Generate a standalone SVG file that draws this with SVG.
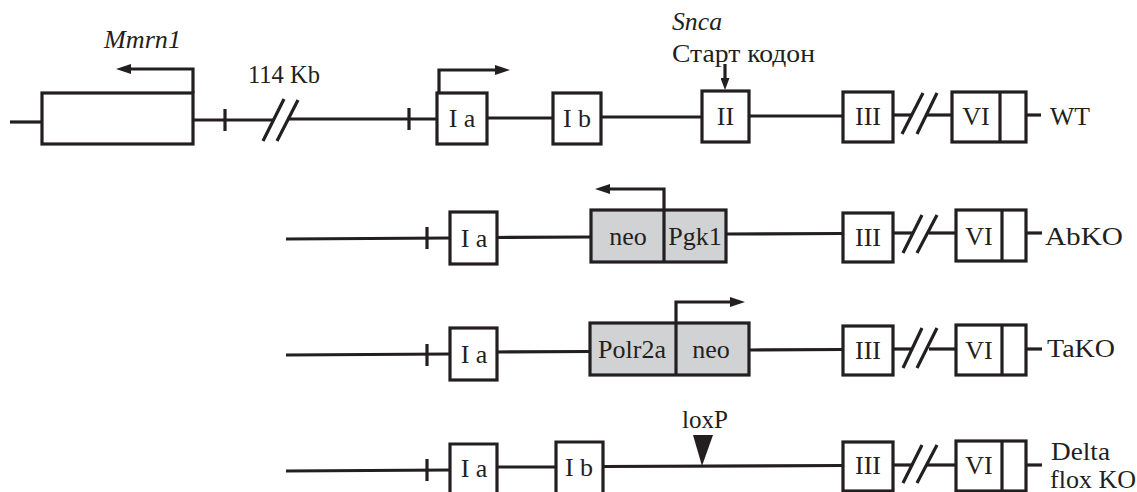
<svg xmlns="http://www.w3.org/2000/svg" width="1137" height="492" viewBox="0 0 1137 492">
<style>
.ln{stroke:#231f20;stroke-width:3.2;fill:none}
.bx{stroke:#231f20;stroke-width:3.2;fill:#fff}
.gb{stroke:#231f20;stroke-width:3.2;fill:#d1d2d4}
text{font-family:'Liberation Serif','DejaVu Serif',serif;font-size:25px;fill:#231f20}
.c{text-anchor:middle;font-size:26px}
.i{font-style:italic}
</style>
<defs>
<marker id="ah" viewBox="0 0 15 10" markerWidth="15" markerHeight="10" refX="5" refY="5" orient="auto" markerUnits="userSpaceOnUse"><path d="M0,0 L15,5 L0,10 z" fill="#231f20"/></marker>
<marker id="ahs" viewBox="0 0 12 9" markerWidth="12" markerHeight="9" refX="4" refY="4.5" orient="auto" markerUnits="userSpaceOnUse"><path d="M0,0 L12,4.5 L0,9 z" fill="#231f20"/></marker>
</defs>

<g id="connectors">
<line class="ln" x1="10" y1="122" x2="42" y2="122"/>
<line class="ln" x1="193" y1="120" x2="274" y2="120"/>
<line class="ln" x1="287" y1="119" x2="437" y2="119"/>
<line class="ln" x1="225" y1="109" x2="225" y2="131"/>
<line class="ln" x1="409" y1="108" x2="409" y2="130"/>
<line class="ln" x1="263" y1="141" x2="284" y2="99"/>
<line class="ln" x1="277" y1="141" x2="298" y2="100"/>
<line class="ln" x1="487" y1="118" x2="553" y2="118"/>
<line class="ln" x1="601" y1="117" x2="702" y2="117"/>
<line class="ln" x1="749" y1="116" x2="843" y2="116"/>
<line class="ln" x1="893" y1="115" x2="913" y2="115"/>
<line class="ln" x1="927" y1="115" x2="952" y2="115"/>
<line class="ln" x1="902" y1="134" x2="923" y2="93"/>
<line class="ln" x1="917" y1="134" x2="937" y2="93"/>
<line class="ln" x1="1026" y1="115" x2="1041" y2="115"/>
<path class="ln" d="M193,93 V69 H126" marker-end="url(#ah)"/>
<path class="ln" d="M439,93 V70 H500" marker-end="url(#ah)"/>
<path class="ln" d="M725,64 V82" marker-end="url(#ahs)"/>
<line class="ln" x1="286" y1="239" x2="450" y2="238"/>
<line class="ln" x1="427" y1="227" x2="427" y2="249"/>
<line class="ln" x1="497" y1="237.5" x2="591" y2="237"/>
<line class="ln" x1="726" y1="234" x2="843" y2="233.5"/>
<line class="ln" x1="893" y1="233" x2="913" y2="233"/>
<line class="ln" x1="929" y1="233" x2="956" y2="233"/>
<line class="ln" x1="903" y1="253" x2="922" y2="215"/>
<line class="ln" x1="917" y1="253" x2="937" y2="215"/>
<line class="ln" x1="1026" y1="233" x2="1042" y2="233"/>
<path class="ln" d="M664,210 V189 H605" marker-end="url(#ah)"/>
<line class="ln" x1="286" y1="355" x2="450" y2="354"/>
<line class="ln" x1="427" y1="344" x2="427" y2="366"/>
<line class="ln" x1="497" y1="352" x2="590" y2="351.5"/>
<line class="ln" x1="749" y1="350" x2="843" y2="349.5"/>
<line class="ln" x1="893" y1="349" x2="913" y2="349"/>
<line class="ln" x1="929" y1="349" x2="956" y2="349"/>
<line class="ln" x1="903" y1="368" x2="922" y2="328"/>
<line class="ln" x1="917" y1="368" x2="937" y2="328"/>
<line class="ln" x1="1026" y1="349" x2="1042" y2="349"/>
<path class="ln" d="M676,323 V302 H735" marker-end="url(#ah)"/>
<line class="ln" x1="286" y1="471" x2="450" y2="470"/>
<line class="ln" x1="427" y1="459" x2="427" y2="481"/>
<line class="ln" x1="497" y1="467" x2="556" y2="467"/>
<line class="ln" x1="603" y1="466.5" x2="843" y2="465.5"/>
<line class="ln" x1="893" y1="465" x2="912" y2="465"/>
<line class="ln" x1="927" y1="465" x2="956" y2="465"/>
<line class="ln" x1="903" y1="483" x2="922" y2="445"/>
<line class="ln" x1="917" y1="483" x2="937" y2="445"/>
<line class="ln" x1="1026" y1="465" x2="1042" y2="465"/>
</g>

<g id="mmrn1">
<rect class="bx" x="42" y="93" width="151" height="51"/>
<text class="i" x="104" y="48" textLength="77" lengthAdjust="spacingAndGlyphs">Mmrn1</text>
</g>
<text id="gap-label" x="248" y="83" textLength="72" lengthAdjust="spacingAndGlyphs">114 Kb</text>
<g id="wt-Ia"><rect class="bx" x="437" y="93" width="50" height="51"/><text class="c" x="462" y="127">I a</text></g>
<g id="wt-Ib"><rect class="bx" x="553" y="93" width="48" height="51"/><text class="c" x="577" y="127">I b</text></g>
<g id="wt-II"><rect class="bx" x="702" y="91" width="47" height="51"/><text class="c" x="725.5" y="125">II</text></g>
<g id="snca-label">
<text class="i" x="672" y="30" textLength="50" lengthAdjust="spacingAndGlyphs">Snca</text>
<text x="672" y="62" textLength="143" lengthAdjust="spacingAndGlyphs">Старт кодон</text>
</g>
<g id="wt-III"><rect class="bx" x="843" y="92" width="50" height="50"/><text class="c" x="868" y="125">III</text></g>
<g id="wt-VI"><rect class="bx" x="952" y="92" width="74" height="50"/><line class="ln" x1="1000" y1="92" x2="1000" y2="142"/><text class="c" x="976" y="125">VI</text></g>
<text id="wt-label" x="1050" y="125" textLength="40" lengthAdjust="spacingAndGlyphs">WT</text>

<g id="ab-Ia"><rect class="bx" x="450" y="212" width="47" height="52"/><text class="c" x="474" y="247">I a</text></g>
<g id="ab-neo-pgk1"><rect class="gb" x="591" y="210" width="135" height="52"/><line class="ln" x1="664" y1="210" x2="664" y2="262"/><text class="c" x="628" y="245">neo</text><text class="c" x="695" y="245">Pgk1</text></g>
<g id="ab-III"><rect class="bx" x="843" y="213" width="50" height="49"/><text class="c" x="868" y="246">III</text></g>
<g id="ab-VI"><rect class="bx" x="956" y="210" width="70" height="51"/><line class="ln" x1="1002" y1="210" x2="1002" y2="261"/><text class="c" x="979" y="245">VI</text></g>
<text id="abko-label" x="1045" y="245" textLength="78" lengthAdjust="spacingAndGlyphs">AbKO</text>

<g id="ta-Ia"><rect class="bx" x="450" y="328" width="47" height="52"/><text class="c" x="474" y="363">I a</text></g>
<g id="ta-polr2a-neo"><rect class="gb" x="590" y="323" width="159" height="52"/><line class="ln" x1="676" y1="323" x2="676" y2="375"/><text class="c" x="632" y="358">Polr2a</text><text class="c" x="711" y="358">neo</text></g>
<g id="ta-III"><rect class="bx" x="843" y="326" width="50" height="49"/><text class="c" x="868" y="359">III</text></g>
<g id="ta-VI"><rect class="bx" x="956" y="325" width="70" height="50"/><line class="ln" x1="1002" y1="325" x2="1002" y2="375"/><text class="c" x="979" y="359">VI</text></g>
<text id="tako-label" x="1047" y="357" textLength="68" lengthAdjust="spacingAndGlyphs">TaKO</text>

<g id="d-Ia"><path class="bx" d="M450,500 V444 H497 V500"/><text class="c" x="474" y="477">I a</text></g>
<g id="d-Ib"><path class="bx" d="M556,500 V442 H603 V500"/><text class="c" x="579" y="476">I b</text></g>
<g id="loxp"><polygon points="693,435 713,435 702,466" fill="#231f20"/><text x="682" y="428" textLength="46" lengthAdjust="spacingAndGlyphs">loxP</text></g>
<g id="d-III"><rect class="bx" x="843" y="442" width="50" height="49"/><text class="c" x="868" y="474">III</text></g>
<g id="d-VI"><rect class="bx" x="956" y="441" width="70" height="50"/><line class="ln" x1="1002" y1="441" x2="1002" y2="491"/><text class="c" x="979" y="474">VI</text></g>
<g id="delta-label"><text x="1051" y="460" textLength="59" lengthAdjust="spacingAndGlyphs">Delta</text><text x="1050" y="488" textLength="86" lengthAdjust="spacingAndGlyphs">flox KO</text></g>
</svg>
